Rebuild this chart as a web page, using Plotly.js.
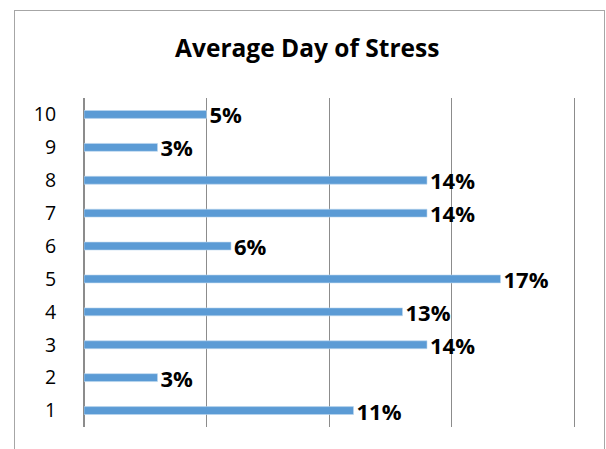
<!DOCTYPE html>
<html>
<head>
<meta charset="utf-8">
<script src="https://cdn.plot.ly/plotly-3.0.1.min.js"></script>
<style>
  html, body { margin: 0; padding: 0; background: #fff; }
  #wrap { position: relative; width: 606px; height: 449px; overflow: hidden; }
  #chart { position: absolute; left: 0; top: 0; width: 606px; height: 449px; }
  #frame { position: absolute; left: 14px; top: 10px; width: 589px; height: 460px;
           border: 1.5px solid #a6a6a6; pointer-events: none; }
</style>
</head>
<body>
<div id="wrap">
  <div id="chart"></div>
  <div id="frame"></div>
</div>
<script>
// Days 1..10 and the share of stress reported on each
const days = ['1', '2', '3', '4', '5', '6', '7', '8', '9', '10'];
const stressShare = [11, 3, 14, 13, 17, 6, 14, 14, 3, 5];
const shareLabels = stressShare.map(v => v + '%');

const trace = {
  type: 'bar',
  orientation: 'h',
  y: days,
  x: stressShare.map(v => v / 100),
  text: shareLabels,
  textposition: 'outside',
  constraintext: 'none',
  cliponaxis: false,
  textfont: { family: '"Open Sans", sans-serif', size: 22, color: '#000', weight: 'bold' },
  marker: { color: '#5b9bd5', line: { color: '#bdd7ee', width: 0.6 } },
  hoverinfo: 'skip'
};

const layout = {
  width: 606,
  height: 449,
  margin: { l: 83.5, r: 31.5, t: 98, b: 22 },
  paper_bgcolor: 'rgba(0,0,0,0)',
  plot_bgcolor: 'rgba(0,0,0,0)',
  bargap: 0.76,
  showlegend: false,
  title: {
    text: '<b>Average Day of Stress</b>',
    font: { family: '"Open Sans", sans-serif', size: 24.5, color: '#000' },
    x: 0.507, xanchor: 'center',
    y: 0.893, yanchor: 'middle'
  },
  xaxis: {
    range: [0, 0.2],
    dtick: 0.05,
    showticklabels: false,
    showgrid: true,
    gridcolor: '#8c8c8c',
    gridwidth: 1,
    zeroline: true,
    zerolinecolor: '#8c8c8c',
    zerolinewidth: 1,
    showline: false,
    fixedrange: true
  },
  yaxis: {
    type: 'category',
    showgrid: false,
    zeroline: false,
    // mirrored axis line supplies the gridline at the 20% edge
    showline: true,
    mirror: true,
    linecolor: '#8c8c8c',
    linewidth: 1,
    ticks: '',
    ticklabelstandoff: 23,
    tickfont: { family: '"Open Sans", sans-serif', size: 19.5, color: '#000' },
    fixedrange: true
  }
};

Plotly.newPlot('chart', [trace], layout, { displayModeBar: false, staticPlot: true });
</script>
</body>
</html>
